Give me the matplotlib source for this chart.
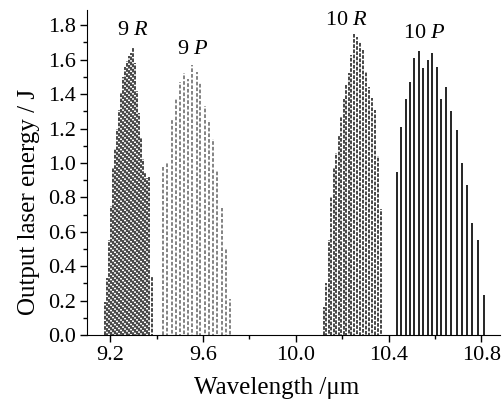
import matplotlib
matplotlib.use("Agg")
import matplotlib.pyplot as plt
from matplotlib.ticker import MultipleLocator

plt.rcParams['font.family'] = ['Liberation Serif', 'DejaVu Serif']
plt.rcParams['mathtext.fontset'] = 'custom'
plt.rcParams['mathtext.rm'] = 'Liberation Serif'
plt.rcParams['mathtext.it'] = 'Liberation Serif:italic'

# 9R branch
wl_9r = [9.1785, 9.1871, 9.1957, 9.2043, 9.2129, 9.2215, 9.2301, 9.2387,
         9.2473, 9.2559, 9.2645, 9.2731, 9.2817, 9.2903, 9.2989, 9.3075,
         9.3161, 9.3247, 9.3333, 9.3419, 9.3505, 9.3591, 9.3677, 9.3785]
en_9r = [0.19, 0.33, 0.55, 0.75, 0.97, 1.08, 1.20, 1.31,
         1.41, 1.50, 1.56, 1.59, 1.62, 1.64, 1.67, 1.58,
         1.42, 1.29, 1.15, 1.02, 0.94, 0.91, 0.92, 0.34]

# 9P branch
wl_9p = [9.429, 9.446, 9.465, 9.482, 9.501, 9.518, 9.536, 9.553, 9.572,
         9.589, 9.608, 9.626, 9.644, 9.661, 9.680, 9.697, 9.716]
en_9p = [0.99, 1.00, 1.25, 1.37, 1.47, 1.52, 1.49, 1.57, 1.53,
         1.47, 1.33, 1.25, 1.14, 0.96, 0.74, 0.50, 0.21]

# 10R branch
wl_10r = [10.1204, 10.1312, 10.1419, 10.1527, 10.1634, 10.1742, 10.1849,
          10.1957, 10.2065, 10.2172, 10.2280, 10.2387, 10.2516, 10.2645,
          10.2774, 10.2903, 10.3032, 10.3161, 10.3290, 10.3419, 10.3548,
          10.3677]
en_10r = [0.16, 0.30, 0.55, 0.80, 0.97, 1.06, 1.16,
          1.27, 1.37, 1.45, 1.52, 1.63, 1.75, 1.73,
          1.70, 1.66, 1.53, 1.44, 1.38, 1.31, 1.04,
          0.73]

# 10P branch
wl_10p = [10.437, 10.454, 10.473, 10.490, 10.510, 10.529, 10.549, 10.568,
          10.586, 10.607, 10.627, 10.649, 10.670, 10.693, 10.716, 10.738,
          10.761, 10.785, 10.809]
en_10p = [0.95, 1.21, 1.37, 1.47, 1.61, 1.65, 1.55, 1.60,
          1.64, 1.56, 1.37, 1.44, 1.30, 1.19, 1.00, 0.87,
          0.65, 0.55, 0.23]


def staggered(n, on, off):
    # shift the dash phase from line to line so the dashes don't line up
    period = on + off
    return [((i * 0.37 * period) % period, (on, off)) for i in range(n)]


fig = plt.figure(figsize=(5.03, 4.08), dpi=100)
ax = fig.add_axes([0.173, 0.179, 0.821, 0.797])

ax.vlines(wl_9r, 0, en_9r, colors='#262626', linestyles=staggered(len(wl_9r), 2.2, 0.9), linewidth=1.2)
ax.vlines(wl_9p, 0, en_9p, colors='#6e6e6e', linestyles=staggered(len(wl_9p), 2.2, 1.2), linewidth=1.2)
ax.vlines(wl_10r, 0, en_10r, colors='#262626', linestyles=staggered(len(wl_10r), 2.2, 0.9), linewidth=1.2)
ax.vlines(wl_10p, 0, en_10p, colors='black', linestyles='solid', linewidth=1.2)

ax.text(9.299, 1.77, '9 $\\it{R}$', ha='center', va='center', fontsize=16)
ax.text(9.557, 1.66, '9 $\\it{P}$', ha='center', va='center', fontsize=16)
ax.text(10.219, 1.83, '10 $\\it{R}$', ha='center', va='center', fontsize=16)
ax.text(10.555, 1.75, '10 $\\it{P}$', ha='center', va='center', fontsize=16)

ax.set_xlim(9.1, 10.88)
ax.set_ylim(0, 1.89)
ax.xaxis.set_major_locator(MultipleLocator(0.4))
ax.xaxis.set_minor_locator(MultipleLocator(0.2))
ax.yaxis.set_major_locator(MultipleLocator(0.2))
ax.yaxis.set_minor_locator(MultipleLocator(0.1))
ax.xaxis.set_major_formatter(plt.FormatStrFormatter('%.1f'))
ax.yaxis.set_major_formatter(plt.FormatStrFormatter('%.1f'))
ax.tick_params(which='major', direction='out', length=5, width=1, labelsize=16, pad=3)
ax.tick_params(which='minor', direction='out', length=3, width=1)

ax.spines['top'].set_visible(False)
ax.spines['right'].set_visible(False)

ax.set_xlabel('Wavelength /\u03bcm', fontsize=18)
ax.set_ylabel('Output laser energy / J', fontsize=18)
ax.xaxis.set_label_coords(0.46, -0.13)
ax.yaxis.set_label_coords(-0.115, 0.41)

fig.savefig('out.png', dpi=100)
